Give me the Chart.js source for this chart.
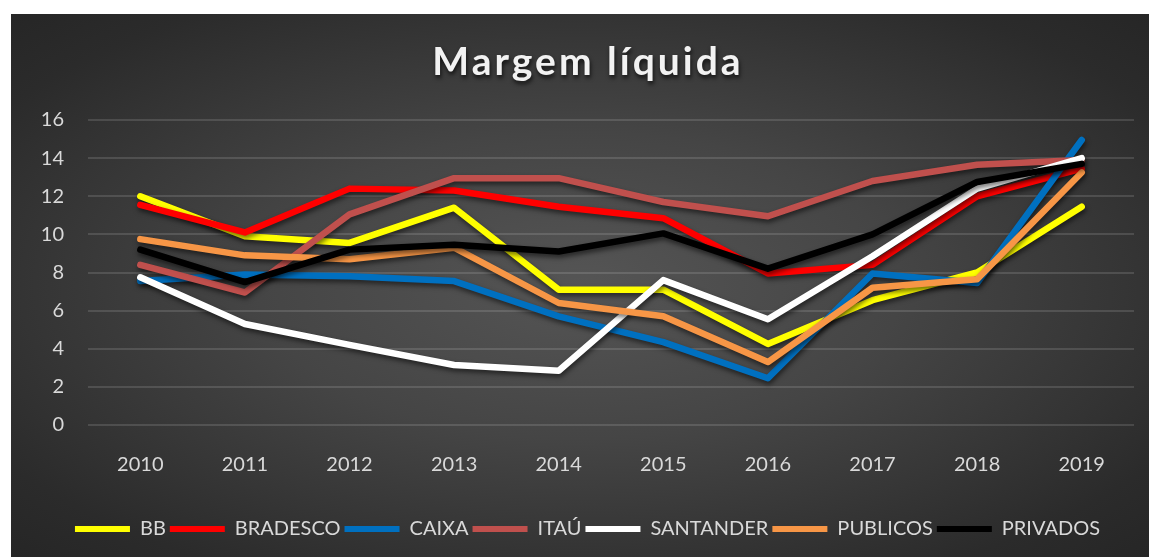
<!DOCTYPE html>
<html>
<head>
<meta charset="utf-8">
<script src="https://cdn.jsdelivr.net/npm/chart.js@4"></script>
<style>
  html, body { margin: 0; padding: 0; background: #fff; }
  #frame {
    position: absolute; left: 11px; top: 14px; width: 1138px; height: 543px;
    background: radial-gradient(ellipse at 50% 50%, #555555 0%, #454545 40%, #2b2b2b 85%, #262626 100%);
  }
</style>
</head>
<body>
<div id="frame"><canvas id="grafico"></canvas></div>
<script>
// dados
const anos = ['2010', '2011', '2012', '2013', '2014', '2015', '2016', '2017', '2018', '2019'];
const bb = [12.0, 9.9, 9.55, 11.4, 7.1, 7.1, 4.25, 6.55, 8.0, 11.45];
const bradesco = [11.55, 10.1, 12.4, 12.3, 11.45, 10.85, 7.95, 8.4, 12.0, 13.45];
const caixa = [7.55, 7.9, 7.8, 7.55, 5.7, 4.35, 2.45, 7.95, 7.45, 14.95];
const itau = [8.4, 6.95, 11.05, 12.95, 12.95, 11.7, 10.95, 12.8, 13.65, 13.9];
const santander = [7.75, 5.3, 4.2, 3.15, 2.85, 7.6, 5.55, 8.85, 12.4, 14.0];
const publicos = [9.75, 8.9, 8.7, 9.3, 6.4, 5.7, 3.3, 7.2, 7.65, 13.25];
const privados = [9.2, 7.5, 9.2, 9.45, 9.1, 10.05, 8.2, 10.0, 12.75, 13.7];

const titulo = 'Margem líquida';

const series = [
    { label: 'BB', data: bb, cor: '#FFFF00' },
    { label: 'BRADESCO', data: bradesco, cor: '#FF0000' },
    { label: 'CAIXA', data: caixa, cor: '#0070C0' },
    { label: 'ITAÚ', data: itau, cor: '#C0504D' },
    { label: 'SANTANDER', data: santander, cor: '#FFFFFF' },
    { label: 'PUBLICOS', data: publicos, cor: '#F79646' },
    { label: 'PRIVADOS', data: privados, cor: '#000000' }
];

// sombra das linhas, como no Excel
const sombra = {
    id: 'sombra',
    beforeDatasetDraw(chart) {
        const ctx = chart.ctx;
        ctx.save();
        ctx.shadowColor = 'rgba(0,0,0,0.55)';
        ctx.shadowBlur = 5;
        ctx.shadowOffsetX = 1;
        ctx.shadowOffsetY = 3;
    },
    afterDatasetDraw(chart) {
        chart.ctx.restore();
    }
};

// título com espaçamento entre letras
const tituloPlugin = {
    id: 'tituloPlugin',
    afterDraw(chart) {
        const ctx = chart.ctx;
        ctx.save();
        ctx.font = 'bold 39px Lato';
        ctx.letterSpacing = '3px';
        ctx.fillStyle = '#F2F2F2';
        ctx.textAlign = 'center';
        ctx.textBaseline = 'alphabetic';
        ctx.shadowColor = 'rgba(0,0,0,0.7)';
        ctx.shadowBlur = 4;
        ctx.shadowOffsetX = 1;
        ctx.shadowOffsetY = 3;
        ctx.fillText(titulo, chart.width / 2 + 8, 61);
        ctx.restore();
    }
};

const ctx = document.getElementById('grafico').getContext('2d');
const chart = new Chart(ctx, {
    type: 'line',
    data: {
        labels: anos,
        datasets: series.map((s, i) => ({
            label: s.label,
            data: s.data,
            borderColor: s.cor,
            backgroundColor: s.cor,
            borderWidth: 6.5,
            borderCapStyle: 'round',
            borderJoinStyle: 'round',
            pointRadius: 0,
            tension: 0,
            fill: false,
            order: series.length - i
        }))
    },
    options: {
        responsive: true,
        maintainAspectRatio: false,
        animation: false,
        layout: {
            padding: { top: 106, left: 30, right: 15, bottom: 8 }
        },
        scales: {
            x: {
                offset: true,
                grid: { display: false, drawTicks: false },
                border: { display: false },
                ticks: {
                    color: '#D9D9D9',
                    font: { family: 'Lato', size: 20 },
                    padding: 28
                },
                afterFit(s) { s.height += 10; }
            },
            y: {
                min: 0,
                max: 16,
                grid: { color: 'rgba(255,255,255,0.13)', lineWidth: 2, drawTicks: false },
                border: { display: false },
                ticks: {
                    stepSize: 2,
                    color: '#D9D9D9',
                    font: { family: 'Lato', size: 20 },
                    padding: 24
                },
                afterFit(s) { s.width = 47; }
            }
        },
        plugins: {
            title: { display: false },
            tooltip: { enabled: false },
            legend: {
                position: 'bottom',
                labels: {
                    color: '#D9D9D9',
                    font: { family: 'Lato', size: 20 },
                    boxWidth: 55,
                    boxHeight: 6,
                    padding: 4,
                    sort: (a, b) => a.datasetIndex - b.datasetIndex,
                    generateLabels(chart) {
                        const itens = Chart.defaults.plugins.legend.labels.generateLabels(chart);
                        itens.forEach(it => {
                            it.lineWidth = 0;
                            it.fillStyle = it.strokeStyle;
                        });
                        return itens;
                    }
                }
            }
        }
    },
    plugins: [sombra, tituloPlugin]
});
</script>
</body>
</html>
